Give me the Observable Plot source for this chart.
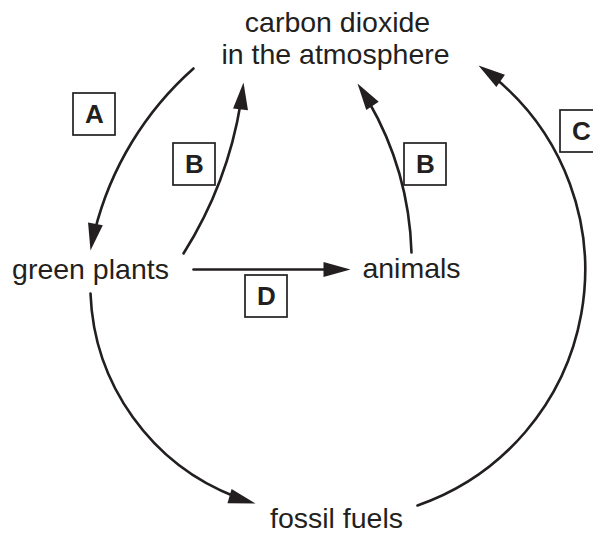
<!DOCTYPE html>
<html>
<head>
<meta charset="utf-8">
<script src="https://cdn.jsdelivr.net/npm/d3@7"></script>
<script src="https://cdn.jsdelivr.net/npm/@observablehq/plot@0.6"></script>
<style>
  html, body { margin: 0; padding: 0; background: #fff; }
  #chart svg { display: block; }
</style>
</head>
<body>
<div id="chart"></div>
<script>
// Diagram coordinate space: x 0–593, y 0–534 (downwards)
const nodeLabels = ["carbon dioxide", "in the atmosphere", "green plants", "animals", "fossil fuels"];
const nodeX = [337, 335, 90, 411, 336];
const nodeY = [31, 63, 278, 277, 527];

// arrows: A, B (plants), B (animals), C, plants→fossil fuels, D
const arrowX1 = [193, 183, 411, 417, 90, 193];
const arrowY1 = [68, 253, 252, 505, 293, 269];
const arrowX2 = [90, 243, 357, 478, 255, 350];
const arrowY2 = [250, 82, 83, 65, 503, 269];
const arrowBend = [-19, -13, -16, -63, -36, 0];

const boxLetters = ["A", "B", "B", "C", "D"];
const boxX = [94, 194, 425, 581, 266];
const boxY = [114, 164, 164, 131, 296];

const ink = "#231f20";
const half = 21;

const arrows = arrowX1.map((x1, i) => {
  const x2 = arrowX2[i], y1 = arrowY1[i], y2 = arrowY2[i], bend = arrowBend[i];
  const ang = Math.atan2(y2 - y1, x2 - x1) * 180 / Math.PI + bend;
  return {x1, y1, x2, y2, bend, rot: ang + 90};
});
const nodes = nodeLabels.map((t, i) => ({t, x: nodeX[i], y: nodeY[i]}));
const boxes = boxLetters.map((t, i) => ({t, x: boxX[i], y: boxY[i]}));

const headSymbol = {
  draw(ctx) {
    ctx.moveTo(0, 0);
    ctx.lineTo(-7.5, 27);
    ctx.lineTo(7.5, 27);
    ctx.closePath();
  }
};

const shafts = arrows.map(a => Plot.arrow([a], {
  x1: "x1", y1: "y1", x2: "x2", y2: "y2",
  bend: a.bend,
  headLength: 0,
  insetEnd: 20,
  stroke: ink,
  strokeWidth: 2.6
}));

const chart = Plot.plot({
  width: 593,
  height: 534,
  margin: 0,
  x: {domain: [0, 593], range: [0, 593], axis: null},
  y: {domain: [0, 534], range: [0, 534], axis: null},
  style: {background: "#fff", overflow: "visible"},
  marks: [
    ...shafts,
    Plot.dot(arrows, {
      x: "x2", y: "y2",
      symbol: headSymbol,
      rotate: "rot",
      fill: ink,
      stroke: "none"
    }),
    Plot.rect(boxes, {
      x1: d => d.x - half, x2: d => d.x + half,
      y1: d => d.y - half, y2: d => d.y + half,
      fill: "#fff", stroke: ink, strokeWidth: 1.7
    }),
    Plot.text(boxes, {
      x: "x", y: "y", text: "t",
      fontFamily: "Liberation Sans", fontSize: 26, fontWeight: "bold",
      fill: ink, textAnchor: "middle", lineAnchor: "middle"
    }),
    Plot.text(nodes, {
      x: "x", y: "y", text: "t",
      fontFamily: "Liberation Sans", fontSize: 28.5,
      fill: ink, textAnchor: "middle", lineAnchor: "bottom"
    })
  ]
});
document.getElementById("chart").append(chart);
</script>
</body>
</html>
